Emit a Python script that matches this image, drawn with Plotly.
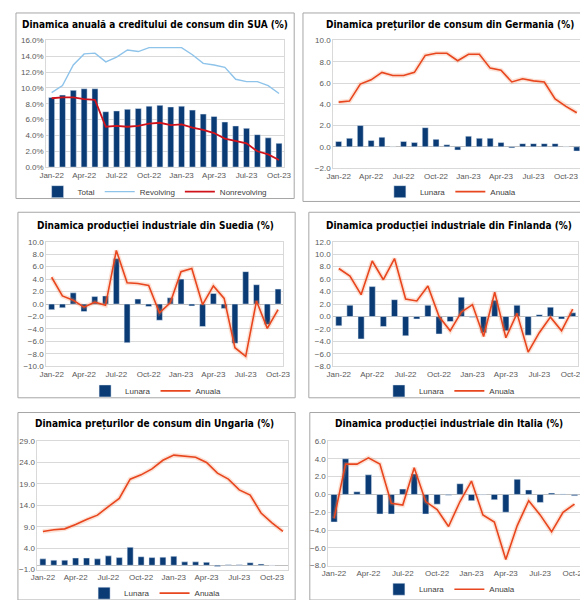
import plotly.graph_objects as go

# luni (axa X)
months = ["Jan-22", "Feb-22", "Mar-22", "Apr-22", "May-22", "Jun-22", "Jul-22", "Aug-22",
          "Sep-22", "Oct-22", "Nov-22", "Dec-22", "Jan-23", "Feb-23", "Mar-23", "Apr-23",
          "May-23", "Jun-23", "Jul-23", "Aug-23", "Sep-23", "Oct-23"]
months_ext = months + ["Nov-23"]
tick_months = ["Jan-22", "Apr-22", "Jul-22", "Oct-22", "Jan-23", "Apr-23", "Jul-23", "Oct-23"]

# SUA - credit de consum (%)
sua_total = [8.8, 9.1, 9.7, 9.9, 9.9, 7.0, 7.1, 7.3, 7.4, 7.7, 7.8, 7.6, 7.7, 7.2, 6.7, 6.4,
             5.7, 5.2, 4.9, 4.1, 3.7, 3.0]
sua_revolving = [9.4, 10.3, 12.9, 14.3, 14.4, 13.3, 13.9, 14.8, 14.6, 15.1, 15.1, 15.1, 15.1,
                 14.2, 13.1, 12.9, 12.6, 11.1, 10.8, 10.8, 10.3, 9.3]
sua_nonrevolving = [8.7, 8.8, 8.8, 8.6, 8.5, 5.1, 5.2, 5.1, 5.2, 5.5, 5.6, 5.3, 5.4, 5.0, 4.7,
                    4.3, 3.6, 3.3, 3.0, 2.0, 1.6, 0.9]

# Germania - preturi de consum (%)
de_lunara = [0.5, 0.8, 2.0, 0.6, 0.9, 0.0, 0.5, 0.4, 1.8, 0.7, 0.2, -0.3, 1.0, 0.8, 0.8, 0.4,
             -0.1, 0.3, 0.3, 0.3, 0.3, 0.0, -0.4]
de_anuala = [4.2, 4.3, 5.9, 6.3, 7.0, 6.7, 6.7, 7.0, 8.6, 8.8, 8.8, 8.1, 8.7, 8.7, 7.4, 7.2,
             6.1, 6.4, 6.2, 6.1, 4.5, 3.8, 3.2]

# Suedia - productie industriala (%)
se_lunara = [-0.9, -0.6, 1.8, -1.2, 1.2, 1.3, 7.3, -6.2, 0.8, -0.4, -2.6, 1.0, 4.0, -0.3, -3.6,
             1.7, -0.7, -6.3, 5.2, 3.1, -3.3, 2.4]
se_anuala = [4.3, 1.3, 0.6, -0.5, 0.3, -0.2, 8.6, 3.4, 3.3, 3.0, -1.4, 0.2, 5.2, 5.7, -0.1,
             2.9, 0.9, -7.0, -8.4, 0.5, -3.9, -0.9]

# Finlanda - productie industriala (%)
fi_lunara = [-1.5, 1.8, -3.6, 4.8, -1.6, 2.7, -3.1, -0.4, 1.8, -2.8, -0.8, 3.1, -0.1, -2.6,
             2.6, -2.3, 1.8, -3.0, 0.3, 1.5, -0.4, 0.6]
fi_anuala = [7.7, 6.5, 3.5, 8.9, 5.9, 9.3, 2.8, 2.5, 4.9, 0.0, -2.3, 0.7, 1.9, -3.2, 3.9,
             -3.4, 0.5, -5.7, -2.6, -0.1, -2.3, 1.2]

# Ungaria - preturi de consum (%)
hu_lunara = [1.5, 1.2, 1.2, 1.7, 1.7, 1.5, 2.2, 1.8, 4.2, 2.0, 1.8, 1.9, 2.1, 0.8, 0.8, 0.7,
             -0.3, 0.1, 0.1, 0.6, 0.3, 0.0, None]
hu_anuala = [7.9, 8.3, 8.5, 9.5, 10.7, 11.7, 13.7, 15.6, 20.1, 21.1, 22.5, 24.5, 25.7, 25.4,
             25.2, 24.0, 21.5, 20.1, 17.6, 16.4, 12.2, 9.9, 7.9]

# Italia - productie industriala (%)
it_lunara = [-3.1, 4.0, 0.3, 2.2, -2.2, -2.2, 0.6, 2.3, -2.2, -1.1, -0.1, 1.2, -0.7, -0.05,
             -0.6, -2.0, 1.7, 0.5, -0.9, 0.15, 0.05, -0.15]
it_anuala = [-2.7, 3.4, 3.4, 4.1, 3.4, -1.0, -1.2, 3.0, -0.8, -1.7, -3.6, -0.8, 1.5, -2.3,
             -3.1, -7.3, -3.5, -0.7, -2.3, -4.2, -2.0, -1.1]

W, H = 588, 600
NAVY = "#0b3b74"
ORANGE = "#e8461e"
GLOW = "rgba(245,140,90,0.25)"
GRID = "#d9d9d9"
TICK = "#595959"
TITLE_FONT = "DejaVu Sans Condensed, Liberation Sans Narrow, sans-serif"
TEXT_FONT = "Liberation Sans, Arial, sans-serif"

# panouri: titlu, casuta (px), zona grafic (px), axa Y, legenda (px)
panels = [
    dict(title="Dinamica anuală a creditului de consum din SUA (%)", box=(1, 1, 286, 190),
         plot=(32, 29, 276, 158), yr=(0, 16), dt=2, suffix="%", n=22, tx=143, ty=13, ly=183),
    dict(title="Dinamica prețurilor de consum din Germania (%)", box=(295, 1, 587, 193),
         plot=(326, 29, 581, 159), yr=(-2, 10), dt=2, suffix="", n=23, tx=446, ty=13, ly=183),
    dict(title="Dinamica producției industriale din Suedia (%)", box=(3, 204, 287, 393),
         plot=(32, 234, 275, 361), yr=(-10, 10), dt=2, suffix="", n=22, tx=144, ty=218, ly=386),
    dict(title="Dinamica producției industriale din Finlanda (%)", box=(301, 204, 586, 393),
         plot=(326, 234, 577, 361), yr=(-8, 12), dt=2, suffix="", n=22, tx=445, ty=218, ly=386),
    dict(title="Dinamica prețurilor de consum din Ungaria (%)", box=(3, 408, 287, 599),
         plot=(23, 437, 280, 568), yr=(-1, 29), dt=5, suffix="", n=23, tx=143, ty=420, ly=592),
    dict(title="Dinamica producției industriale din Italia (%)", box=(302, 408, 587, 599),
         plot=(321, 437, 579, 564), yr=(-8, 6), dt=2, suffix="", n=22, tx=445, ty=420, ly=588),
]

fig = go.Figure()


def px_x(v):
    return v / W


def px_y(v):
    return 1 - v / H


def leg_name(i):
    return "legend" if i == 1 else f"legend{i}"


def add_bar(i, x, y, name):
    fig.add_trace(go.Bar(x=x, y=y, name=name, marker=dict(color=NAVY), width=0.55,
                         xaxis=f"x{i}", yaxis=f"y{i}", legend=leg_name(i)))


def add_line(i, x, y, name, color, width=1.6, glow=True):
    if glow:
        fig.add_trace(go.Scatter(x=x, y=y, mode="lines", line=dict(color=GLOW, width=4.5),
                                 showlegend=False, hoverinfo="skip",
                                 xaxis=f"x{i}", yaxis=f"y{i}"))
    fig.add_trace(go.Scatter(x=x, y=y, mode="lines", name=name, line=dict(color=color, width=width),
                             xaxis=f"x{i}", yaxis=f"y{i}", legend=leg_name(i)))


# SUA
add_bar(1, months, sua_total, "Total")
add_line(1, months, sua_revolving, "Revolving", "#8ec3ea", width=1.4, glow=False)
add_line(1, months, sua_nonrevolving, "Nonrevolving", "#d0121b", width=1.8, glow=False)
# Germania
add_bar(2, months_ext, de_lunara, "Lunara")
add_line(2, months_ext, de_anuala, "Anuala", ORANGE)
# Suedia
add_bar(3, months, se_lunara, "Lunara")
add_line(3, months, se_anuala, "Anuala", ORANGE)
# Finlanda
add_bar(4, months, fi_lunara, "Lunara")
add_line(4, months, fi_anuala, "Anuala", ORANGE)
# Ungaria
add_bar(5, months_ext, hu_lunara, "Lunara")
add_line(5, months_ext, hu_anuala, "Anuala", ORANGE)
# Italia
add_bar(6, months, it_lunara, "Lunara")
add_line(6, months, it_anuala, "Anuala", ORANGE)

layout = dict(
    width=W, height=H, margin=dict(l=0, r=0, t=0, b=0),
    paper_bgcolor="white", plot_bgcolor="white",
    font=dict(family=TEXT_FONT, size=8, color=TICK),
    barmode="overlay",
    shapes=[], annotations=[],
)

for k, p in enumerate(panels, start=1):
    x0, y0, x1, y1 = p["plot"]
    cats = months_ext if p["n"] == 23 else months
    layout[f"xaxis{k}"] = dict(
        domain=[px_x(x0), px_x(x1)], anchor=f"y{k}", type="category",
        categoryorder="array", categoryarray=cats,
        range=[-0.5, p["n"] - 0.5], tickvals=tick_months, ticks="",
        tickfont=dict(size=8, color=TICK), showgrid=False, showline=True,
        linecolor=GRID, linewidth=1, mirror=True, fixedrange=True,
    )
    lo, hi = p["yr"]
    layout[f"yaxis{k}"] = dict(
        domain=[px_y(y1), px_y(y0)], anchor=f"x{k}", range=[lo, hi], dtick=p["dt"], tick0=lo,
        tickformat=".1f", ticksuffix=p["suffix"], tickfont=dict(size=8, color=TICK),
        showgrid=True, gridcolor=GRID, gridwidth=1, zeroline=True, zerolinecolor="#bfbfbf",
        zerolinewidth=1, showline=True, linecolor=GRID, mirror=True, ticks="", fixedrange=True,
    )
    layout[leg_name(k)] = dict(
        orientation="h", x=px_x(p["tx"]), xanchor="center", y=px_y(p["ly"]), yanchor="middle",
        font=dict(size=8, color="#404040", family=TEXT_FONT), bgcolor="rgba(0,0,0,0)",
        itemwidth=30, tracegroupgap=0, traceorder="normal",
    )
    bx0, by0, bx1, by1 = p["box"]
    layout["shapes"].append(dict(
        type="rect", xref="paper", yref="paper", x0=px_x(bx0), x1=px_x(bx1),
        y0=px_y(by1), y1=px_y(by0), line=dict(color="#a6a6a6", width=1), layer="below",
    ))
    layout["annotations"].append(dict(
        text=f"<b>{p['title']}</b>", xref="paper", yref="paper", x=px_x(p["tx"]),
        y=px_y(p["ty"]), xanchor="center", yanchor="middle", showarrow=False,
        font=dict(family=TITLE_FONT, size=10, color="black"),
    ))

fig.update_layout(**layout)
fig.write_html("out.html")
